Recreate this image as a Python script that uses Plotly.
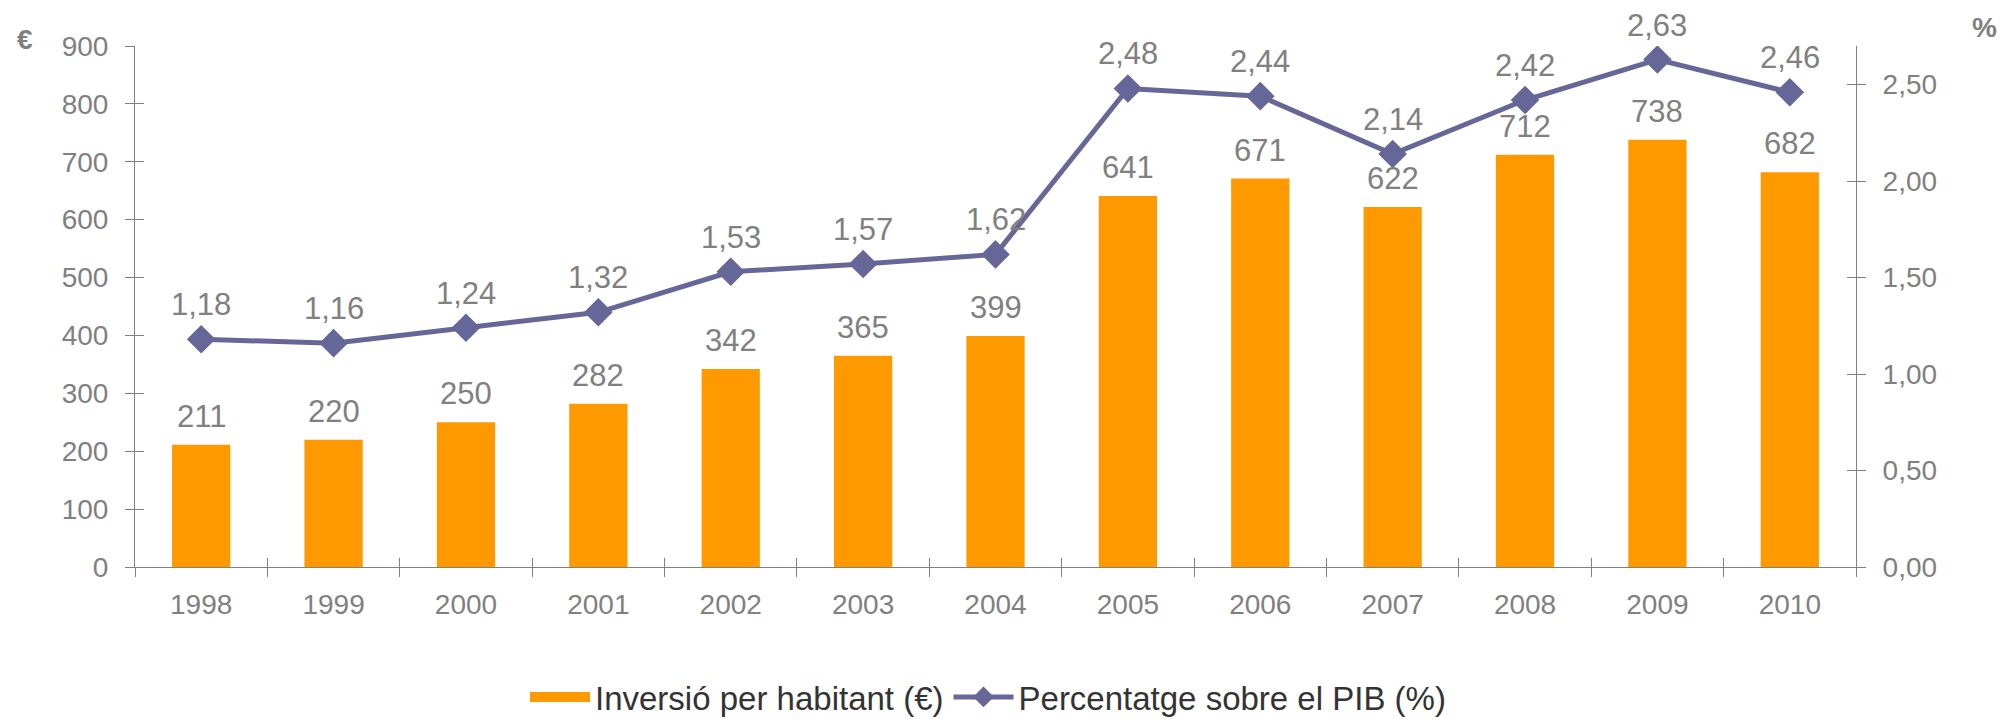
import plotly.graph_objects as go

years = ["1998", "1999", "2000", "2001", "2002", "2003", "2004",
         "2005", "2006", "2007", "2008", "2009", "2010"]
inversio = [211, 220, 250, 282, 342, 365, 399, 641, 671, 622, 712, 738, 682]
pib = [1.18, 1.16, 1.24, 1.32, 1.53, 1.57, 1.62, 2.48, 2.44, 2.14, 2.42, 2.63, 2.46]
left_ticks = [0, 100, 200, 300, 400, 500, 600, 700, 800, 900]
right_ticks = [0, 0.5, 1.0, 1.5, 2.0, 2.5]

GREY = "#808080"
ORANGE = "#FF9900"
PURPLE = "#666699"
FONT = "Liberation Sans, Arial, sans-serif"

# page body has an 8px margin: figure drawn at (8, 8)
OFF = 8
W, H = 2006 - OFF, 719 - OFF
ml, mt = 135 - OFF, 46 - OFF
mr = W - (1856 - OFF)
mb = H - (567 - OFF)
pw, ph = W - ml - mr, H - mt - mb


def px_x(xp):
    return (xp - OFF - ml) / pw


def px_y(yp):
    return (H - mb - (yp - OFF)) / ph


fig = go.Figure()
fig.add_trace(go.Bar(
    x=years, y=inversio, name="Inversió per habitant (€)", showlegend=False,
    marker=dict(color=ORANGE, line=dict(width=0)), width=0.44,
))
# legend swatch for the bars (legend-only)
fig.add_trace(go.Scatter(
    x=[None], y=[None], name="Inversió per habitant (€)", mode="lines",
    line=dict(color=ORANGE, width=20),
))
fig.add_trace(go.Scatter(
    x=years, y=pib, name="Percentatge sobre el PIB (%)", yaxis="y2",
    mode="lines+markers",
    line=dict(color=PURPLE, width=5),
    marker=dict(symbol="diamond", size=22, color=PURPLE),
))
# invisible helper traces so the inner half of the crossing ticks is drawn
fig.add_trace(go.Scatter(x=years, y=[None] * len(years), xaxis="x2", yaxis="y3",
                         showlegend=False, hoverinfo="skip", mode="lines"))
fig.add_trace(go.Scatter(x=years, y=[None] * len(years), xaxis="x2", yaxis="y4",
                         showlegend=False, hoverinfo="skip", mode="lines"))

annotations = []
for i, v in enumerate(inversio):
    annotations.append(dict(x=i, y=v, xref="x", yref="y", text=str(v),
                            showarrow=False, yanchor="bottom", yshift=9,
                            font=dict(size=31, color=GREY, family=FONT)))
for i, v in enumerate(pib):
    annotations.append(dict(x=i, y=v, xref="x", yref="y2",
                            text=f"{v:.2f}".replace(".", ","), borderpad=0,
                            showarrow=False, yanchor="bottom", yshift=16,
                            font=dict(size=31, color=GREY, family=FONT)))
annotations.append(dict(x=px_x(24.5), y=px_y(39.5), xref="paper", yref="paper",
                        xanchor="center", yanchor="middle",
                        text="<b>€</b>", showarrow=False,
                        font=dict(size=28, color=GREY, family=FONT)))
annotations.append(dict(x=px_x(1984), y=px_y(28), xref="paper", yref="paper",
                        xanchor="center", yanchor="middle",
                        text="<b>%</b>", showarrow=False,
                        font=dict(size=28, color=GREY, family=FONT)))

tick_common = dict(tickcolor=GREY, ticklen=9, showgrid=False, zeroline=False)

fig.update_layout(
    width=W, height=H,
    margin=dict(l=ml, r=mr, t=mt, b=mb, pad=0, autoexpand=False),
    paper_bgcolor="white", plot_bgcolor="white",
    separators=",.",
    font=dict(family=FONT, color=GREY, size=28),
    showlegend=True,
    legend=dict(orientation="h", x=px_x(988), xanchor="center", y=px_y(697),
                yanchor="middle", font=dict(size=33, color="#333333", family=FONT),
                itemwidth=60, traceorder="normal"),
    xaxis=dict(type="category", range=[-0.5, 12.5], showline=True, linecolor=GREY,
               linewidth=1, ticks="outside", tickson="boundaries",
               tickfont=dict(size=28, color=GREY), ticklabelstandoff=12, **tick_common),
    xaxis2=dict(type="category", range=[-0.5, 12.5], overlaying="x", anchor="y3",
                side="bottom", showline=False, ticks="inside", tickson="boundaries",
                showticklabels=False, **tick_common),
    yaxis=dict(range=[0, 900], tickvals=left_ticks, showline=True, linecolor=GREY,
               linewidth=1, ticks="outside", tickfont=dict(size=28, color=GREY),
               ticklabelstandoff=11, **tick_common),
    yaxis3=dict(range=[0, 900], tickvals=left_ticks, overlaying="y", anchor="x2",
                side="left", showline=False, ticks="inside", showticklabels=False,
                **tick_common),
    yaxis2=dict(range=[0, 2.7], tickvals=right_ticks, tickformat=".2f",
                overlaying="y", side="right", showline=True, linecolor=GREY,
                linewidth=1, ticks="outside", tickfont=dict(size=28, color=GREY),
                ticklabelstandoff=11, **tick_common),
    yaxis4=dict(range=[0, 2.7], tickvals=right_ticks, overlaying="y", anchor="x2",
                side="right", showline=False, ticks="inside", showticklabels=False,
                **tick_common),
    annotations=annotations,
)

fig.write_html("out.html")
